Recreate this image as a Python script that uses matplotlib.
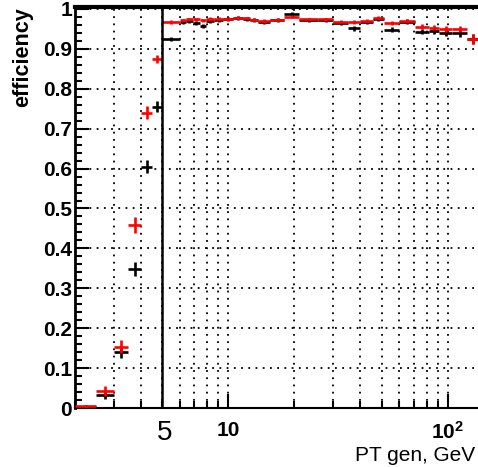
import numpy as np
import matplotlib
matplotlib.use("Agg")
import matplotlib.pyplot as plt
import matplotlib.transforms as mtransforms
from matplotlib.ticker import FixedLocator, FixedFormatter, MultipleLocator, FuncFormatter

plt.rcParams['font.family'] = ['Liberation Sans', 'DejaVu Sans']
plt.rcParams['font.weight'] = 'bold'
plt.rcParams['mathtext.fontset'] = 'custom'
plt.rcParams['mathtext.rm'] = 'Liberation Sans:bold'
plt.rcParams['mathtext.bf'] = 'Liberation Sans:bold'

# bin edges, PT gen in GeV
edges = [2.0, 2.5, 3.0, 3.5, 4.0, 4.5, 5.0, 6.0, 6.4, 6.9, 7.4, 7.9, 8.6, 9.5,
         10.5, 11.6, 12.6, 13.7, 15.5, 18, 21, 25.5, 30, 35, 40, 45.5, 51, 60,
         71, 82, 91, 105, 122, 140]

# black histogram
eff_black = [0.003, 0.033, 0.140, 0.348, 0.605, 0.755, 0.925, 0.968, 0.970, 0.965,
             0.958, 0.970, 0.972, 0.975, 0.978, 0.975, 0.972, 0.968, 0.972, 0.987,
             0.972, 0.973, 0.965, 0.952, 0.968, 0.975, 0.948, 0.968, 0.943, 0.945,
             0.940, 0.940, 0.925]
err_black = [0.004, 0.010, 0.015, 0.017, 0.017, 0.014, 0.006, 0.005, 0.005, 0.005,
             0.005, 0.005, 0.005, 0.005, 0.005, 0.005, 0.005, 0.005, 0.005, 0.005,
             0.005, 0.005, 0.005, 0.006, 0.005, 0.005, 0.006, 0.006, 0.006, 0.007,
             0.008, 0.009, 0.013]

# red histogram
eff_red = [0.004, 0.043, 0.154, 0.459, 0.740, 0.875, 0.967, 0.972, 0.974, 0.974,
           0.972, 0.975, 0.976, 0.976, 0.978, 0.977, 0.973, 0.970, 0.973, 0.981,
           0.974, 0.974, 0.968, 0.967, 0.971, 0.978, 0.966, 0.971, 0.956, 0.953,
           0.950, 0.950, 0.925]
err_red = [0.003, 0.012, 0.016, 0.020, 0.016, 0.010, 0.005, 0.004, 0.004, 0.004,
           0.004, 0.004, 0.004, 0.004, 0.004, 0.004, 0.004, 0.004, 0.004, 0.004,
           0.004, 0.004, 0.004, 0.005, 0.004, 0.004, 0.005, 0.005, 0.006, 0.006,
           0.007, 0.008, 0.013]

lo = np.array(edges[:-1])
hi = np.array(edges[1:])
xc = (lo + hi) / 2
xerr = [xc - lo, hi - xc]

fig = plt.figure(figsize=(4.78, 4.67), dpi=100)
ax = fig.add_axes([75 / 478, 1 - 408 / 467, 411.4 / 478, 401 / 467])

ax.errorbar(xc, eff_black, xerr=xerr, yerr=err_black, fmt='none',
            ecolor='black', elinewidth=1.9, capsize=0, zorder=3)
ax.errorbar(xc, eff_red, xerr=xerr, yerr=err_red, fmt='none',
            ecolor='#ff0000', elinewidth=1.9, capsize=0, zorder=4)

ax.axvline(5, color='black', lw=1.8, zorder=5)

ax.set_xscale('log')
ax.set_xlim(2, 150)
ax.set_ylim(0, 1.005)

minor_x = [2, 3, 4, 5, 6, 7, 8, 9, 20, 30, 40, 50, 60, 70, 80, 90]
ax.xaxis.set_major_locator(FixedLocator([10, 100]))
ax.xaxis.set_major_formatter(FixedFormatter(['10', r'$\mathbf{10^{2}}$']))
ax.xaxis.set_minor_locator(FixedLocator(minor_x))
ax.xaxis.set_minor_formatter(FuncFormatter(lambda v, p: ''))
ax.yaxis.set_major_locator(MultipleLocator(0.1))
ax.yaxis.set_minor_locator(MultipleLocator(0.02))
ax.yaxis.set_major_formatter(FuncFormatter(lambda v, p: f'{v:g}'))

ax.tick_params(which='both', direction='in', top=False, right=False, width=1.5)
ax.tick_params(which='major', length=10, labelsize=15)
ax.tick_params(which='minor', length=5)
ax.tick_params(axis='x', which='major', pad=9)
ax.tick_params(axis='y', which='major', pad=2)

dots = (0, (1, 3))
ax.grid(which='both', axis='x', linestyle=dots, color='black', lw=1.3)
ax.grid(which='major', axis='y', linestyle=dots, color='black', lw=1.3)
ax.set_axisbelow(True)

ax.spines['top'].set_linewidth(3)
ax.spines['left'].set_linewidth(2)
ax.spines['bottom'].set_linewidth(1.5)
ax.spines['right'].set_visible(False)

ax.set_ylabel('efficiency', fontsize=15.5, fontweight='bold', loc='top')
ax.yaxis.set_label_coords(-0.102, 1.0)
ax.set_xlabel('PT gen, GeV', fontsize=15, fontweight='normal', loc='right')
ax.xaxis.set_label_coords(0.973, -0.095)

trans = mtransforms.blended_transform_factory(ax.transData, ax.transAxes)
ax.text(5.1, -0.03, '5', transform=trans, ha='center', va='top',
        fontsize=20, fontweight='normal')

fig.savefig('out.png', dpi=100)
